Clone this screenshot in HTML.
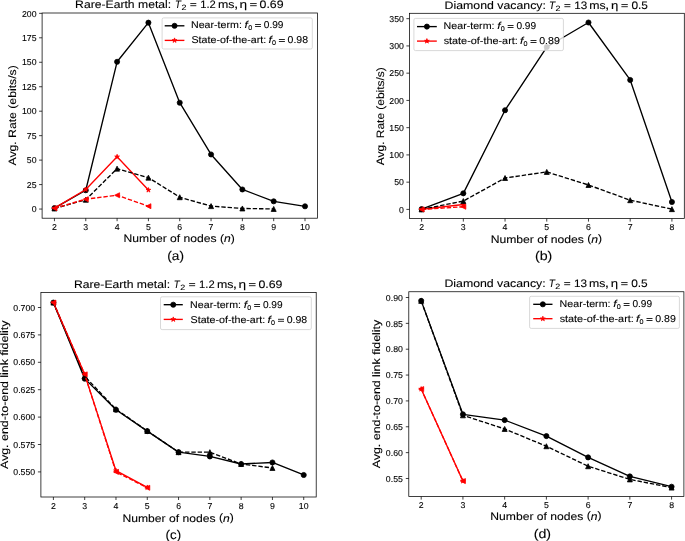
<!DOCTYPE html>
<html><head><meta charset="utf-8"><style>
html,body{margin:0;padding:0;background:#fff;}
svg{display:block;}
text{fill:#000;stroke:#000;stroke-width:0.1px;}
svg{will-change:transform;text-rendering:geometricPrecision;}
</style></head><body>
<svg width="685" height="541" viewBox="0 0 685 541" font-family='"Liberation Sans", sans-serif'>
<rect width="685" height="541" fill="#fff"/>
<clipPath id="ca"><rect x="42.1" y="13.0" width="275.29999999999995" height="205.2"/></clipPath>
<g clip-path="url(#ca)">
<path d="M54.45,208.07 L85.77,190.26 L117.09,61.79 L148.41,22.65 L179.73,102.69 L211.05,154.45 L242.37,189.48 L273.69,201.32 L305.01,206.31" fill="none" stroke="#000" stroke-width="1.35" stroke-linejoin="round"/>
<circle cx="54.45" cy="208.07" r="2.55" fill="#000" stroke="#000" stroke-width="0.8"/>
<circle cx="85.77" cy="190.26" r="2.55" fill="#000" stroke="#000" stroke-width="0.8"/>
<circle cx="117.09" cy="61.79" r="2.55" fill="#000" stroke="#000" stroke-width="0.8"/>
<circle cx="148.41" cy="22.65" r="2.55" fill="#000" stroke="#000" stroke-width="0.8"/>
<circle cx="179.73" cy="102.69" r="2.55" fill="#000" stroke="#000" stroke-width="0.8"/>
<circle cx="211.05" cy="154.45" r="2.55" fill="#000" stroke="#000" stroke-width="0.8"/>
<circle cx="242.37" cy="189.48" r="2.55" fill="#000" stroke="#000" stroke-width="0.8"/>
<circle cx="273.69" cy="201.32" r="2.55" fill="#000" stroke="#000" stroke-width="0.8"/>
<circle cx="305.01" cy="206.31" r="2.55" fill="#000" stroke="#000" stroke-width="0.8"/>
<path d="M54.45,208.07 L85.77,189.48 L117.09,156.80 L148.41,190.07" fill="none" stroke="#ff0000" stroke-width="1.35" stroke-linejoin="round"/>
<polygon points="54.45,205.57 53.89,207.30 52.07,207.30 53.54,208.37 52.98,210.09 54.45,209.03 55.92,210.09 55.36,208.37 56.83,207.30 55.01,207.30" fill="#ff0000" stroke="#ff0000" stroke-width="0.8" stroke-linejoin="miter"/>
<polygon points="85.77,186.98 85.21,188.71 83.39,188.71 84.86,189.78 84.30,191.50 85.77,190.43 87.24,191.50 86.68,189.78 88.15,188.71 86.33,188.71" fill="#ff0000" stroke="#ff0000" stroke-width="0.8" stroke-linejoin="miter"/>
<polygon points="117.09,154.30 116.53,156.03 114.71,156.03 116.18,157.09 115.62,158.82 117.09,157.75 118.56,158.82 118.00,157.09 119.47,156.03 117.65,156.03" fill="#ff0000" stroke="#ff0000" stroke-width="0.8" stroke-linejoin="miter"/>
<polygon points="148.41,187.57 147.85,189.29 146.03,189.29 147.50,190.36 146.94,192.09 148.41,191.02 149.88,192.09 149.32,190.36 150.79,189.29 148.97,189.29" fill="#ff0000" stroke="#ff0000" stroke-width="0.8" stroke-linejoin="miter"/>
<path d="M54.45,208.46 L85.77,199.75 L117.09,168.64 L148.41,177.64 L179.73,197.21 L211.05,206.11 L242.37,208.46 L273.69,208.95" fill="none" stroke="#000" stroke-width="1.35" stroke-linejoin="round" stroke-dasharray="4.4,1.9"/>
<polygon points="54.45,205.96 51.95,210.96 56.95,210.96" fill="#000" stroke="#000" stroke-width="0.8" stroke-linejoin="miter"/>
<polygon points="85.77,197.25 83.27,202.25 88.27,202.25" fill="#000" stroke="#000" stroke-width="0.8" stroke-linejoin="miter"/>
<polygon points="117.09,166.14 114.59,171.14 119.59,171.14" fill="#000" stroke="#000" stroke-width="0.8" stroke-linejoin="miter"/>
<polygon points="148.41,175.14 145.91,180.14 150.91,180.14" fill="#000" stroke="#000" stroke-width="0.8" stroke-linejoin="miter"/>
<polygon points="179.73,194.71 177.23,199.71 182.23,199.71" fill="#000" stroke="#000" stroke-width="0.8" stroke-linejoin="miter"/>
<polygon points="211.05,203.61 208.55,208.61 213.55,208.61" fill="#000" stroke="#000" stroke-width="0.8" stroke-linejoin="miter"/>
<polygon points="242.37,205.96 239.87,210.96 244.87,210.96" fill="#000" stroke="#000" stroke-width="0.8" stroke-linejoin="miter"/>
<polygon points="273.69,206.45 271.19,211.45 276.19,211.45" fill="#000" stroke="#000" stroke-width="0.8" stroke-linejoin="miter"/>
<path d="M54.45,208.27 L85.77,199.17 L117.09,195.25 L148.41,206.21" fill="none" stroke="#ff0000" stroke-width="1.35" stroke-linejoin="round" stroke-dasharray="4.4,1.9"/>
<polygon points="51.95,208.27 56.95,205.77 56.95,210.77" fill="#ff0000" stroke="#ff0000" stroke-width="0.8" stroke-linejoin="miter"/>
<polygon points="83.27,199.17 88.27,196.67 88.27,201.67" fill="#ff0000" stroke="#ff0000" stroke-width="0.8" stroke-linejoin="miter"/>
<polygon points="114.59,195.25 119.59,192.75 119.59,197.75" fill="#ff0000" stroke="#ff0000" stroke-width="0.8" stroke-linejoin="miter"/>
<polygon points="145.91,206.21 150.91,203.71 150.91,208.71" fill="#ff0000" stroke="#ff0000" stroke-width="0.8" stroke-linejoin="miter"/>
</g>
<rect x="42.10" y="13.00" width="275.30" height="205.20" fill="none" stroke="#000" stroke-width="0.75"/>
<path d="M54.45,218.20v3.0 M85.77,218.20v3.0 M117.09,218.20v3.0 M148.41,218.20v3.0 M179.73,218.20v3.0 M211.05,218.20v3.0 M242.37,218.20v3.0 M273.69,218.20v3.0 M305.01,218.20v3.0 M42.10,209.05h-3.0 M42.10,184.59h-3.0 M42.10,160.12h-3.0 M42.10,135.66h-3.0 M42.10,111.20h-3.0 M42.10,86.74h-3.0 M42.10,62.28h-3.0 M42.10,37.81h-3.0 M42.10,13.35h-3.0" stroke="#000" stroke-width="0.75" fill="none"/>
<text x="54.45" y="229.70" font-size="8.6" text-anchor="middle" textLength="4.87" lengthAdjust="spacingAndGlyphs">2</text>
<text x="85.77" y="229.70" font-size="8.6" text-anchor="middle" textLength="4.87" lengthAdjust="spacingAndGlyphs">3</text>
<text x="117.09" y="229.70" font-size="8.6" text-anchor="middle" textLength="4.87" lengthAdjust="spacingAndGlyphs">4</text>
<text x="148.41" y="229.70" font-size="8.6" text-anchor="middle" textLength="4.87" lengthAdjust="spacingAndGlyphs">5</text>
<text x="179.73" y="229.70" font-size="8.6" text-anchor="middle" textLength="4.87" lengthAdjust="spacingAndGlyphs">6</text>
<text x="211.05" y="229.70" font-size="8.6" text-anchor="middle" textLength="4.87" lengthAdjust="spacingAndGlyphs">7</text>
<text x="242.37" y="229.70" font-size="8.6" text-anchor="middle" textLength="4.87" lengthAdjust="spacingAndGlyphs">8</text>
<text x="273.69" y="229.70" font-size="8.6" text-anchor="middle" textLength="4.87" lengthAdjust="spacingAndGlyphs">9</text>
<text x="305.01" y="229.70" font-size="8.6" text-anchor="middle" textLength="9.74" lengthAdjust="spacingAndGlyphs">10</text>
<text x="36.60" y="212.00" font-size="8.6" text-anchor="end" textLength="4.87" lengthAdjust="spacingAndGlyphs">0</text>
<text x="36.60" y="188.00" font-size="8.6" text-anchor="end" textLength="9.74" lengthAdjust="spacingAndGlyphs">25</text>
<text x="36.60" y="163.00" font-size="8.6" text-anchor="end" textLength="9.74" lengthAdjust="spacingAndGlyphs">50</text>
<text x="36.60" y="139.00" font-size="8.6" text-anchor="end" textLength="9.74" lengthAdjust="spacingAndGlyphs">75</text>
<text x="36.60" y="114.00" font-size="8.6" text-anchor="end" textLength="14.60" lengthAdjust="spacingAndGlyphs">100</text>
<text x="36.60" y="90.00" font-size="8.6" text-anchor="end" textLength="14.60" lengthAdjust="spacingAndGlyphs">125</text>
<text x="36.60" y="65.00" font-size="8.6" text-anchor="end" textLength="14.60" lengthAdjust="spacingAndGlyphs">150</text>
<text x="36.60" y="41.00" font-size="8.6" text-anchor="end" textLength="14.60" lengthAdjust="spacingAndGlyphs">175</text>
<text x="36.60" y="17.00" font-size="8.6" text-anchor="end" textLength="14.60" lengthAdjust="spacingAndGlyphs">200</text>
<text transform="translate(75.122,8.00) scale(1.1174,1)" font-size="10.9">Rare-Earth metal:</text>
<text transform="translate(174.906,8.00) scale(0.8941,1)" font-size="10.9"><tspan font-style="italic">T</tspan></text>
<text transform="translate(181.461,10.00) scale(1.1714,1)" font-size="7.63">2</text>
<path d="M190.30,3.55H196.30M190.30,5.70H196.30" stroke="#000" stroke-width="0.85" fill="none"/>
<text transform="translate(200.227,8.00) scale(1.0306,1)" font-size="10.9">1.2</text>
<text transform="translate(218.048,8.00) scale(1.1364,1)" font-size="10.9">ms</text>
<text transform="translate(233.878,8.00) scale(1.4222,1)" font-size="10.9">,</text>
<text transform="translate(239.574,8.00) scale(1.2513,1)" font-size="10.9">η</text>
<path d="M250.10,3.55H256.70M250.10,5.70H256.70" stroke="#000" stroke-width="0.85" fill="none"/>
<text transform="translate(259.575,8.00) scale(1.1337,1)" font-size="10.9">0.69</text>
<text x="123.60" y="242.40" font-size="10.8" text-anchor="start" textLength="111.30" lengthAdjust="spacingAndGlyphs">Number of nodes <tspan dy="-0.8">(</tspan><tspan dy="0.8" font-style="italic">n</tspan><tspan dy="-0.8">)</tspan></text>
<text x="175.70" y="260.00" font-size="12.6" text-anchor="middle" textLength="16.80" lengthAdjust="spacingAndGlyphs"><tspan dy="-0.5">(</tspan><tspan dy="0.5">a</tspan><tspan dy="-0.5">)</tspan></text>
<text transform="translate(16.40,115.40) rotate(-90)" font-size="10.7" text-anchor="middle" textLength="100.30" lengthAdjust="spacingAndGlyphs">Avg. Rate (ebits/s)</text>
<rect x="162.10" y="17.90" width="150.20" height="31.10" rx="1.6" ry="1.6" fill="#fff" fill-opacity="0.8" stroke="#cccccc" stroke-width="0.75"/>
<path d="M164.70,25.80H184.40" stroke="#000" stroke-width="1.35"/>
<circle cx="174.55" cy="25.80" r="2.55" fill="#000" stroke="#000" stroke-width="0.8"/>
<text transform="translate(190.991,28.00) scale(1.0784,1)" font-size="9.9">Near-term:</text>
<text transform="translate(244.596,28.00) scale(1.2148,1)" font-size="9.9"><tspan font-style="italic">f</tspan></text>
<text transform="translate(248.141,29.80) scale(1.0370,1)" font-size="6.93">0</text>
<path d="M255.05,24.50H260.95M255.05,26.50H260.95" stroke="#000" stroke-width="0.85" fill="none"/>
<text transform="translate(263.816,28.00) scale(1.0231,1)" font-size="9.9">0.99</text>
<path d="M164.70,40.40H184.40" stroke="#ff0000" stroke-width="1.35"/>
<polygon points="174.55,37.90 173.99,39.63 172.17,39.63 173.64,40.70 173.08,42.42 174.55,41.35 176.02,42.42 175.46,40.70 176.93,39.63 175.11,39.63" fill="#ff0000" stroke="#ff0000" stroke-width="0.8" stroke-linejoin="miter"/>
<text transform="translate(191.495,43.00) scale(1.0799,1)" font-size="9.9">State-of-the-art:</text>
<text transform="translate(268.396,43.00) scale(1.2148,1)" font-size="9.9"><tspan font-style="italic">f</tspan></text>
<text transform="translate(271.941,44.80) scale(1.0370,1)" font-size="6.93">0</text>
<path d="M278.90,39.50H284.90M278.90,41.50H284.90" stroke="#000" stroke-width="0.85" fill="none"/>
<text transform="translate(287.601,43.00) scale(1.0649,1)" font-size="9.9">0.98</text>
<clipPath id="cb"><rect x="409.4" y="13.3" width="274.9" height="205.29999999999998"/></clipPath>
<g clip-path="url(#cb)">
<path d="M421.60,209.13 L463.32,193.33 L505.04,110.23 L546.76,47.02 L588.48,22.50 L630.20,79.93 L671.92,201.99" fill="none" stroke="#000" stroke-width="1.35" stroke-linejoin="round"/>
<circle cx="421.60" cy="209.13" r="2.55" fill="#000" stroke="#000" stroke-width="0.8"/>
<circle cx="463.32" cy="193.33" r="2.55" fill="#000" stroke="#000" stroke-width="0.8"/>
<circle cx="505.04" cy="110.23" r="2.55" fill="#000" stroke="#000" stroke-width="0.8"/>
<circle cx="546.76" cy="47.02" r="2.55" fill="#000" stroke="#000" stroke-width="0.8"/>
<circle cx="588.48" cy="22.50" r="2.55" fill="#000" stroke="#000" stroke-width="0.8"/>
<circle cx="630.20" cy="79.93" r="2.55" fill="#000" stroke="#000" stroke-width="0.8"/>
<circle cx="671.92" cy="201.99" r="2.55" fill="#000" stroke="#000" stroke-width="0.8"/>
<path d="M421.60,209.29 L463.32,204.50" fill="none" stroke="#ff0000" stroke-width="1.35" stroke-linejoin="round"/>
<polygon points="421.60,206.79 421.04,208.52 419.22,208.52 420.69,209.59 420.13,211.31 421.60,210.25 423.07,211.31 422.51,209.59 423.98,208.52 422.16,208.52" fill="#ff0000" stroke="#ff0000" stroke-width="0.8" stroke-linejoin="miter"/>
<polygon points="463.32,202.00 462.76,203.72 460.94,203.72 462.41,204.79 461.85,206.52 463.32,205.45 464.79,206.52 464.23,204.79 465.70,203.72 463.88,203.72" fill="#ff0000" stroke="#ff0000" stroke-width="0.8" stroke-linejoin="miter"/>
<path d="M421.60,209.40 L463.32,201.06 L505.04,178.01 L546.76,171.91 L588.48,184.99 L630.20,200.19 L671.92,209.13" fill="none" stroke="#000" stroke-width="1.35" stroke-linejoin="round" stroke-dasharray="4.4,1.9"/>
<polygon points="421.60,206.90 419.10,211.90 424.10,211.90" fill="#000" stroke="#000" stroke-width="0.8" stroke-linejoin="miter"/>
<polygon points="463.32,198.56 460.82,203.56 465.82,203.56" fill="#000" stroke="#000" stroke-width="0.8" stroke-linejoin="miter"/>
<polygon points="505.04,175.51 502.54,180.51 507.54,180.51" fill="#000" stroke="#000" stroke-width="0.8" stroke-linejoin="miter"/>
<polygon points="546.76,169.41 544.26,174.41 549.26,174.41" fill="#000" stroke="#000" stroke-width="0.8" stroke-linejoin="miter"/>
<polygon points="588.48,182.49 585.98,187.49 590.98,187.49" fill="#000" stroke="#000" stroke-width="0.8" stroke-linejoin="miter"/>
<polygon points="630.20,197.69 627.70,202.69 632.70,202.69" fill="#000" stroke="#000" stroke-width="0.8" stroke-linejoin="miter"/>
<polygon points="671.92,206.63 669.42,211.63 674.42,211.63" fill="#000" stroke="#000" stroke-width="0.8" stroke-linejoin="miter"/>
<path d="M421.60,209.40 L463.32,206.78" fill="none" stroke="#ff0000" stroke-width="1.35" stroke-linejoin="round" stroke-dasharray="4.4,1.9"/>
<polygon points="419.10,209.40 424.10,206.90 424.10,211.90" fill="#ff0000" stroke="#ff0000" stroke-width="0.8" stroke-linejoin="miter"/>
<polygon points="460.82,206.78 465.82,204.28 465.82,209.28" fill="#ff0000" stroke="#ff0000" stroke-width="0.8" stroke-linejoin="miter"/>
</g>
<rect x="409.40" y="13.30" width="274.90" height="205.30" fill="none" stroke="#000" stroke-width="0.75"/>
<path d="M421.60,218.60v3.0 M463.32,218.60v3.0 M505.04,218.60v3.0 M546.76,218.60v3.0 M588.48,218.60v3.0 M630.20,218.60v3.0 M671.92,218.60v3.0 M409.40,209.40h-3.0 M409.40,182.16h-3.0 M409.40,154.91h-3.0 M409.40,127.66h-3.0 M409.40,100.42h-3.0 M409.40,73.17h-3.0 M409.40,45.93h-3.0 M409.40,18.68h-3.0" stroke="#000" stroke-width="0.75" fill="none"/>
<text x="421.60" y="230.10" font-size="8.6" text-anchor="middle" textLength="4.87" lengthAdjust="spacingAndGlyphs">2</text>
<text x="463.32" y="230.10" font-size="8.6" text-anchor="middle" textLength="4.87" lengthAdjust="spacingAndGlyphs">3</text>
<text x="505.04" y="230.10" font-size="8.6" text-anchor="middle" textLength="4.87" lengthAdjust="spacingAndGlyphs">4</text>
<text x="546.76" y="230.10" font-size="8.6" text-anchor="middle" textLength="4.87" lengthAdjust="spacingAndGlyphs">5</text>
<text x="588.48" y="230.10" font-size="8.6" text-anchor="middle" textLength="4.87" lengthAdjust="spacingAndGlyphs">6</text>
<text x="630.20" y="230.10" font-size="8.6" text-anchor="middle" textLength="4.87" lengthAdjust="spacingAndGlyphs">7</text>
<text x="671.92" y="230.10" font-size="8.6" text-anchor="middle" textLength="4.87" lengthAdjust="spacingAndGlyphs">8</text>
<text x="403.90" y="213.00" font-size="8.6" text-anchor="end" textLength="4.87" lengthAdjust="spacingAndGlyphs">0</text>
<text x="403.90" y="185.00" font-size="8.6" text-anchor="end" textLength="9.74" lengthAdjust="spacingAndGlyphs">50</text>
<text x="403.90" y="158.00" font-size="8.6" text-anchor="end" textLength="14.60" lengthAdjust="spacingAndGlyphs">100</text>
<text x="403.90" y="131.00" font-size="8.6" text-anchor="end" textLength="14.60" lengthAdjust="spacingAndGlyphs">150</text>
<text x="403.90" y="104.00" font-size="8.6" text-anchor="end" textLength="14.60" lengthAdjust="spacingAndGlyphs">200</text>
<text x="403.90" y="76.00" font-size="8.6" text-anchor="end" textLength="14.60" lengthAdjust="spacingAndGlyphs">250</text>
<text x="403.90" y="49.00" font-size="8.6" text-anchor="end" textLength="14.60" lengthAdjust="spacingAndGlyphs">300</text>
<text x="403.90" y="22.00" font-size="8.6" text-anchor="end" textLength="14.60" lengthAdjust="spacingAndGlyphs">350</text>
<text transform="translate(444.611,9.00) scale(1.1305,1)" font-size="10.9">Diamond vacancy:</text>
<text transform="translate(548.975,9.00) scale(0.9255,1)" font-size="10.9"><tspan font-style="italic">T</tspan></text>
<text transform="translate(555.561,11.00) scale(1.1714,1)" font-size="7.63">2</text>
<path d="M564.40,4.55H570.40M564.40,6.70H570.40" stroke="#000" stroke-width="0.85" fill="none"/>
<text transform="translate(574.193,9.00) scale(1.0759,1)" font-size="10.9">13</text>
<text transform="translate(589.153,9.00) scale(1.1290,1)" font-size="10.9">ms</text>
<text transform="translate(604.878,9.00) scale(1.4222,1)" font-size="10.9">,</text>
<text transform="translate(610.895,9.00) scale(1.2103,1)" font-size="10.9">η</text>
<path d="M621.40,4.55H627.80M621.40,6.70H627.80" stroke="#000" stroke-width="0.85" fill="none"/>
<text transform="translate(631.390,9.00) scale(1.0922,1)" font-size="10.9">0.5</text>
<text x="490.70" y="242.60" font-size="10.8" text-anchor="start" textLength="111.50" lengthAdjust="spacingAndGlyphs">Number of nodes <tspan dy="-0.8">(</tspan><tspan dy="0.8" font-style="italic">n</tspan><tspan dy="-0.8">)</tspan></text>
<text x="543.60" y="260.00" font-size="12.6" text-anchor="middle" textLength="17.40" lengthAdjust="spacingAndGlyphs"><tspan dy="-0.5">(</tspan><tspan dy="0.5">b</tspan><tspan dy="-0.5">)</tspan></text>
<text transform="translate(383.70,116.20) rotate(-90)" font-size="10.7" text-anchor="middle" textLength="98.00" lengthAdjust="spacingAndGlyphs">Avg. Rate (ebits/s)</text>
<rect x="413.90" y="18.40" width="149.50" height="32.20" rx="1.6" ry="1.6" fill="#fff" fill-opacity="0.8" stroke="#cccccc" stroke-width="0.75"/>
<path d="M417.00,26.60H436.80" stroke="#000" stroke-width="1.35"/>
<circle cx="426.90" cy="26.60" r="2.55" fill="#000" stroke="#000" stroke-width="0.8"/>
<text transform="translate(443.591,29.00) scale(1.0784,1)" font-size="9.9">Near-term:</text>
<text transform="translate(497.196,29.00) scale(1.2148,1)" font-size="9.9"><tspan font-style="italic">f</tspan></text>
<text transform="translate(500.741,30.80) scale(1.0370,1)" font-size="6.93">0</text>
<path d="M507.65,25.50H513.55M507.65,27.50H513.55" stroke="#000" stroke-width="0.85" fill="none"/>
<text transform="translate(516.416,29.00) scale(1.0231,1)" font-size="9.9">0.99</text>
<path d="M417.00,41.10H436.80" stroke="#ff0000" stroke-width="1.35"/>
<polygon points="426.90,38.60 426.34,40.33 424.52,40.33 425.99,41.40 425.43,43.12 426.90,42.05 428.37,43.12 427.81,41.40 429.28,40.33 427.46,40.33" fill="#ff0000" stroke="#ff0000" stroke-width="0.8" stroke-linejoin="miter"/>
<text transform="translate(443.625,44.00) scale(1.0983,1)" font-size="9.9">state-of-the-art:</text>
<text transform="translate(519.996,44.00) scale(1.2148,1)" font-size="9.9"><tspan font-style="italic">f</tspan></text>
<text transform="translate(523.541,45.80) scale(1.0370,1)" font-size="6.93">0</text>
<path d="M530.50,40.50H536.50M530.50,42.50H536.50" stroke="#000" stroke-width="0.85" fill="none"/>
<text transform="translate(539.198,44.00) scale(1.0721,1)" font-size="9.9">0.89</text>
<clipPath id="cc"><rect x="40.9" y="292.45" width="275.3" height="204.55"/></clipPath>
<g clip-path="url(#cc)">
<path d="M53.40,302.57 L84.69,378.63 L115.98,409.76 L147.27,431.13 L178.56,452.17 L209.85,456.45 L241.14,464.01 L272.43,462.47 L303.72,474.97" fill="none" stroke="#000" stroke-width="1.35" stroke-linejoin="round"/>
<circle cx="53.40" cy="302.57" r="2.55" fill="#000" stroke="#000" stroke-width="0.8"/>
<circle cx="84.69" cy="378.63" r="2.55" fill="#000" stroke="#000" stroke-width="0.8"/>
<circle cx="115.98" cy="409.76" r="2.55" fill="#000" stroke="#000" stroke-width="0.8"/>
<circle cx="147.27" cy="431.13" r="2.55" fill="#000" stroke="#000" stroke-width="0.8"/>
<circle cx="178.56" cy="452.17" r="2.55" fill="#000" stroke="#000" stroke-width="0.8"/>
<circle cx="209.85" cy="456.45" r="2.55" fill="#000" stroke="#000" stroke-width="0.8"/>
<circle cx="241.14" cy="464.01" r="2.55" fill="#000" stroke="#000" stroke-width="0.8"/>
<circle cx="272.43" cy="462.47" r="2.55" fill="#000" stroke="#000" stroke-width="0.8"/>
<circle cx="303.72" cy="474.97" r="2.55" fill="#000" stroke="#000" stroke-width="0.8"/>
<path d="M53.40,302.57 L84.69,374.36 L115.98,470.69 L147.27,487.46" fill="none" stroke="#ff0000" stroke-width="1.35" stroke-linejoin="round"/>
<polygon points="53.40,300.07 52.84,301.80 51.02,301.80 52.49,302.86 51.93,304.59 53.40,303.52 54.87,304.59 54.31,302.86 55.78,301.80 53.96,301.80" fill="#ff0000" stroke="#ff0000" stroke-width="0.8" stroke-linejoin="miter"/>
<polygon points="84.69,371.86 84.13,373.58 82.31,373.58 83.78,374.65 83.22,376.38 84.69,375.31 86.16,376.38 85.60,374.65 87.07,373.58 85.25,373.58" fill="#ff0000" stroke="#ff0000" stroke-width="0.8" stroke-linejoin="miter"/>
<polygon points="115.98,468.19 115.42,469.92 113.60,469.92 115.07,470.99 114.51,472.72 115.98,471.65 117.45,472.72 116.89,470.99 118.36,469.92 116.54,469.92" fill="#ff0000" stroke="#ff0000" stroke-width="0.8" stroke-linejoin="miter"/>
<polygon points="147.27,484.96 146.71,486.69 144.89,486.69 146.36,487.76 145.80,489.49 147.27,488.42 148.74,489.49 148.18,487.76 149.65,486.69 147.83,486.69" fill="#ff0000" stroke="#ff0000" stroke-width="0.8" stroke-linejoin="miter"/>
<path d="M53.40,302.57 L84.69,376.33 L115.98,409.21 L147.27,430.91 L178.56,452.17 L209.85,452.17 L241.14,464.01 L272.43,467.95" fill="none" stroke="#000" stroke-width="1.35" stroke-linejoin="round" stroke-dasharray="4.4,1.9"/>
<polygon points="53.40,300.07 50.90,305.07 55.90,305.07" fill="#000" stroke="#000" stroke-width="0.8" stroke-linejoin="miter"/>
<polygon points="84.69,373.83 82.19,378.83 87.19,378.83" fill="#000" stroke="#000" stroke-width="0.8" stroke-linejoin="miter"/>
<polygon points="115.98,406.71 113.48,411.71 118.48,411.71" fill="#000" stroke="#000" stroke-width="0.8" stroke-linejoin="miter"/>
<polygon points="147.27,428.41 144.77,433.41 149.77,433.41" fill="#000" stroke="#000" stroke-width="0.8" stroke-linejoin="miter"/>
<polygon points="178.56,449.67 176.06,454.67 181.06,454.67" fill="#000" stroke="#000" stroke-width="0.8" stroke-linejoin="miter"/>
<polygon points="209.85,449.67 207.35,454.67 212.35,454.67" fill="#000" stroke="#000" stroke-width="0.8" stroke-linejoin="miter"/>
<polygon points="241.14,461.51 238.64,466.51 243.64,466.51" fill="#000" stroke="#000" stroke-width="0.8" stroke-linejoin="miter"/>
<polygon points="272.43,465.45 269.93,470.45 274.93,470.45" fill="#000" stroke="#000" stroke-width="0.8" stroke-linejoin="miter"/>
<path d="M53.40,302.57 L84.69,374.36 L115.98,471.90 L147.27,487.79" fill="none" stroke="#ff0000" stroke-width="1.35" stroke-linejoin="round" stroke-dasharray="4.4,1.9"/>
<polygon points="50.90,302.57 55.90,300.07 55.90,305.07" fill="#ff0000" stroke="#ff0000" stroke-width="0.8" stroke-linejoin="miter"/>
<polygon points="82.19,374.36 87.19,371.86 87.19,376.86" fill="#ff0000" stroke="#ff0000" stroke-width="0.8" stroke-linejoin="miter"/>
<polygon points="113.48,471.90 118.48,469.40 118.48,474.40" fill="#ff0000" stroke="#ff0000" stroke-width="0.8" stroke-linejoin="miter"/>
<polygon points="144.77,487.79 149.77,485.29 149.77,490.29" fill="#ff0000" stroke="#ff0000" stroke-width="0.8" stroke-linejoin="miter"/>
</g>
<rect x="40.90" y="292.45" width="275.30" height="204.55" fill="none" stroke="#000" stroke-width="0.75"/>
<path d="M53.40,497.00v3.0 M84.69,497.00v3.0 M115.98,497.00v3.0 M147.27,497.00v3.0 M178.56,497.00v3.0 M209.85,497.00v3.0 M241.14,497.00v3.0 M272.43,497.00v3.0 M303.72,497.00v3.0 M40.90,471.90h-3.0 M40.90,444.50h-3.0 M40.90,417.10h-3.0 M40.90,389.70h-3.0 M40.90,362.30h-3.0 M40.90,334.90h-3.0 M40.90,307.50h-3.0" stroke="#000" stroke-width="0.75" fill="none"/>
<text x="53.40" y="508.60" font-size="8.6" text-anchor="middle" textLength="4.87" lengthAdjust="spacingAndGlyphs">2</text>
<text x="84.69" y="508.60" font-size="8.6" text-anchor="middle" textLength="4.87" lengthAdjust="spacingAndGlyphs">3</text>
<text x="115.98" y="508.60" font-size="8.6" text-anchor="middle" textLength="4.87" lengthAdjust="spacingAndGlyphs">4</text>
<text x="147.27" y="508.60" font-size="8.6" text-anchor="middle" textLength="4.87" lengthAdjust="spacingAndGlyphs">5</text>
<text x="178.56" y="508.60" font-size="8.6" text-anchor="middle" textLength="4.87" lengthAdjust="spacingAndGlyphs">6</text>
<text x="209.85" y="508.60" font-size="8.6" text-anchor="middle" textLength="4.87" lengthAdjust="spacingAndGlyphs">7</text>
<text x="241.14" y="508.60" font-size="8.6" text-anchor="middle" textLength="4.87" lengthAdjust="spacingAndGlyphs">8</text>
<text x="272.43" y="508.60" font-size="8.6" text-anchor="middle" textLength="4.87" lengthAdjust="spacingAndGlyphs">9</text>
<text x="303.72" y="508.60" font-size="8.6" text-anchor="middle" textLength="9.74" lengthAdjust="spacingAndGlyphs">10</text>
<text x="35.20" y="475.00" font-size="8.6" text-anchor="end" textLength="21.91" lengthAdjust="spacingAndGlyphs">0.550</text>
<text x="35.20" y="448.00" font-size="8.6" text-anchor="end" textLength="21.91" lengthAdjust="spacingAndGlyphs">0.575</text>
<text x="35.20" y="420.00" font-size="8.6" text-anchor="end" textLength="21.91" lengthAdjust="spacingAndGlyphs">0.600</text>
<text x="35.20" y="393.00" font-size="8.6" text-anchor="end" textLength="21.91" lengthAdjust="spacingAndGlyphs">0.625</text>
<text x="35.20" y="365.00" font-size="8.6" text-anchor="end" textLength="21.91" lengthAdjust="spacingAndGlyphs">0.650</text>
<text x="35.20" y="338.00" font-size="8.6" text-anchor="end" textLength="21.91" lengthAdjust="spacingAndGlyphs">0.675</text>
<text x="35.20" y="311.00" font-size="8.6" text-anchor="end" textLength="21.91" lengthAdjust="spacingAndGlyphs">0.700</text>
<text transform="translate(73.972,288.00) scale(1.1174,1)" font-size="10.9">Rare-Earth metal:</text>
<text transform="translate(173.756,288.00) scale(0.8941,1)" font-size="10.9"><tspan font-style="italic">T</tspan></text>
<text transform="translate(180.311,290.00) scale(1.1714,1)" font-size="7.63">2</text>
<path d="M189.15,283.55H195.15M189.15,285.70H195.15" stroke="#000" stroke-width="0.85" fill="none"/>
<text transform="translate(199.077,288.00) scale(1.0306,1)" font-size="10.9">1.2</text>
<text transform="translate(216.898,288.00) scale(1.1364,1)" font-size="10.9">ms</text>
<text transform="translate(232.728,288.00) scale(1.4222,1)" font-size="10.9">,</text>
<text transform="translate(238.424,288.00) scale(1.2513,1)" font-size="10.9">η</text>
<path d="M248.95,283.55H255.55M248.95,285.70H255.55" stroke="#000" stroke-width="0.85" fill="none"/>
<text transform="translate(258.425,288.00) scale(1.1337,1)" font-size="10.9">0.69</text>
<text x="122.50" y="521.90" font-size="10.8" text-anchor="start" textLength="111.30" lengthAdjust="spacingAndGlyphs">Number of nodes <tspan dy="-0.8">(</tspan><tspan dy="0.8" font-style="italic">n</tspan><tspan dy="-0.8">)</tspan></text>
<text x="173.40" y="539.00" font-size="12.6" text-anchor="middle" textLength="15.60" lengthAdjust="spacingAndGlyphs"><tspan dy="-0.5">(</tspan><tspan dy="0.5">c</tspan><tspan dy="-0.5">)</tspan></text>
<text transform="translate(7.60,394.75) rotate(-90)" font-size="10.7" text-anchor="middle" textLength="148.50" lengthAdjust="spacingAndGlyphs">Avg. end-to-end link fidelity</text>
<rect x="160.50" y="296.80" width="150.80" height="32.80" rx="1.6" ry="1.6" fill="#fff" fill-opacity="0.8" stroke="#cccccc" stroke-width="0.75"/>
<path d="M163.70,304.70H182.80" stroke="#000" stroke-width="1.35"/>
<circle cx="173.25" cy="304.70" r="2.55" fill="#000" stroke="#000" stroke-width="0.8"/>
<text transform="translate(190.091,308.00) scale(1.0784,1)" font-size="9.9">Near-term:</text>
<text transform="translate(243.696,308.00) scale(1.2148,1)" font-size="9.9"><tspan font-style="italic">f</tspan></text>
<text transform="translate(247.241,309.80) scale(1.0370,1)" font-size="6.93">0</text>
<path d="M254.15,304.50H260.05M254.15,306.50H260.05" stroke="#000" stroke-width="0.85" fill="none"/>
<text transform="translate(262.916,308.00) scale(1.0231,1)" font-size="9.9">0.99</text>
<path d="M163.70,319.40H182.80" stroke="#ff0000" stroke-width="1.35"/>
<polygon points="173.25,316.90 172.69,318.63 170.87,318.63 172.34,319.70 171.78,321.42 173.25,320.35 174.72,321.42 174.16,319.70 175.63,318.63 173.81,318.63" fill="#ff0000" stroke="#ff0000" stroke-width="0.8" stroke-linejoin="miter"/>
<text transform="translate(190.595,322.80) scale(1.0799,1)" font-size="9.9">State-of-the-art:</text>
<text transform="translate(267.496,322.80) scale(1.2148,1)" font-size="9.9"><tspan font-style="italic">f</tspan></text>
<text transform="translate(271.041,324.60) scale(1.0370,1)" font-size="6.93">0</text>
<path d="M278.00,319.30H284.00M278.00,321.30H284.00" stroke="#000" stroke-width="0.85" fill="none"/>
<text transform="translate(286.701,322.80) scale(1.0649,1)" font-size="9.9">0.98</text>
<clipPath id="cd"><rect x="408.8" y="291.75" width="275.09999999999997" height="204.85000000000002"/></clipPath>
<g clip-path="url(#cd)">
<path d="M421.20,300.86 L462.93,414.31 L504.66,420.10 L546.39,436.08 L588.12,457.39 L629.85,476.42 L671.58,486.71" fill="none" stroke="#000" stroke-width="1.35" stroke-linejoin="round"/>
<circle cx="421.20" cy="300.86" r="2.55" fill="#000" stroke="#000" stroke-width="0.8"/>
<circle cx="462.93" cy="414.31" r="2.55" fill="#000" stroke="#000" stroke-width="0.8"/>
<circle cx="504.66" cy="420.10" r="2.55" fill="#000" stroke="#000" stroke-width="0.8"/>
<circle cx="546.39" cy="436.08" r="2.55" fill="#000" stroke="#000" stroke-width="0.8"/>
<circle cx="588.12" cy="457.39" r="2.55" fill="#000" stroke="#000" stroke-width="0.8"/>
<circle cx="629.85" cy="476.42" r="2.55" fill="#000" stroke="#000" stroke-width="0.8"/>
<circle cx="671.58" cy="486.71" r="2.55" fill="#000" stroke="#000" stroke-width="0.8"/>
<path d="M421.20,389.08 L462.93,481.07" fill="none" stroke="#ff0000" stroke-width="1.35" stroke-linejoin="round"/>
<polygon points="421.20,386.58 420.64,388.31 418.82,388.31 420.29,389.37 419.73,391.10 421.20,390.03 422.67,391.10 422.11,389.37 423.58,388.31 421.76,388.31" fill="#ff0000" stroke="#ff0000" stroke-width="0.8" stroke-linejoin="miter"/>
<polygon points="462.93,478.57 462.37,480.30 460.55,480.30 462.02,481.37 461.46,483.09 462.93,482.03 464.40,483.09 463.84,481.37 465.31,480.30 463.49,480.30" fill="#ff0000" stroke="#ff0000" stroke-width="0.8" stroke-linejoin="miter"/>
<path d="M421.20,300.86 L462.93,415.30 L504.66,428.95 L546.39,446.22 L588.12,466.23 L629.85,479.42 L671.58,487.59" fill="none" stroke="#000" stroke-width="1.35" stroke-linejoin="round" stroke-dasharray="4.4,1.9"/>
<polygon points="421.20,298.36 418.70,303.36 423.70,303.36" fill="#000" stroke="#000" stroke-width="0.8" stroke-linejoin="miter"/>
<polygon points="462.93,412.80 460.43,417.80 465.43,417.80" fill="#000" stroke="#000" stroke-width="0.8" stroke-linejoin="miter"/>
<polygon points="504.66,426.45 502.16,431.45 507.16,431.45" fill="#000" stroke="#000" stroke-width="0.8" stroke-linejoin="miter"/>
<polygon points="546.39,443.72 543.89,448.72 548.89,448.72" fill="#000" stroke="#000" stroke-width="0.8" stroke-linejoin="miter"/>
<polygon points="588.12,463.73 585.62,468.73 590.62,468.73" fill="#000" stroke="#000" stroke-width="0.8" stroke-linejoin="miter"/>
<polygon points="629.85,476.92 627.35,481.92 632.35,481.92" fill="#000" stroke="#000" stroke-width="0.8" stroke-linejoin="miter"/>
<polygon points="671.58,485.09 669.08,490.09 674.08,490.09" fill="#000" stroke="#000" stroke-width="0.8" stroke-linejoin="miter"/>
<path d="M421.20,389.08 L462.93,481.07" fill="none" stroke="#ff0000" stroke-width="1.35" stroke-linejoin="round" stroke-dasharray="4.4,1.9"/>
<polygon points="418.70,389.08 423.70,386.58 423.70,391.58" fill="#ff0000" stroke="#ff0000" stroke-width="0.8" stroke-linejoin="miter"/>
<polygon points="460.43,481.07 465.43,478.57 465.43,483.57" fill="#ff0000" stroke="#ff0000" stroke-width="0.8" stroke-linejoin="miter"/>
</g>
<rect x="408.80" y="291.75" width="275.10" height="204.85" fill="none" stroke="#000" stroke-width="0.75"/>
<path d="M421.20,496.60v3.0 M462.93,496.60v3.0 M504.66,496.60v3.0 M546.39,496.60v3.0 M588.12,496.60v3.0 M629.85,496.60v3.0 M671.58,496.60v3.0 M408.80,478.49h-3.0 M408.80,452.63h-3.0 M408.80,426.77h-3.0 M408.80,400.92h-3.0 M408.80,375.06h-3.0 M408.80,349.21h-3.0 M408.80,323.36h-3.0 M408.80,297.50h-3.0" stroke="#000" stroke-width="0.75" fill="none"/>
<text x="421.20" y="508.00" font-size="8.6" text-anchor="middle" textLength="4.87" lengthAdjust="spacingAndGlyphs">2</text>
<text x="462.93" y="508.00" font-size="8.6" text-anchor="middle" textLength="4.87" lengthAdjust="spacingAndGlyphs">3</text>
<text x="504.66" y="508.00" font-size="8.6" text-anchor="middle" textLength="4.87" lengthAdjust="spacingAndGlyphs">4</text>
<text x="546.39" y="508.00" font-size="8.6" text-anchor="middle" textLength="4.87" lengthAdjust="spacingAndGlyphs">5</text>
<text x="588.12" y="508.00" font-size="8.6" text-anchor="middle" textLength="4.87" lengthAdjust="spacingAndGlyphs">6</text>
<text x="629.85" y="508.00" font-size="8.6" text-anchor="middle" textLength="4.87" lengthAdjust="spacingAndGlyphs">7</text>
<text x="671.58" y="508.00" font-size="8.6" text-anchor="middle" textLength="4.87" lengthAdjust="spacingAndGlyphs">8</text>
<text x="402.90" y="482.00" font-size="8.6" text-anchor="end" textLength="17.04" lengthAdjust="spacingAndGlyphs">0.55</text>
<text x="402.90" y="456.00" font-size="8.6" text-anchor="end" textLength="17.04" lengthAdjust="spacingAndGlyphs">0.60</text>
<text x="402.90" y="430.00" font-size="8.6" text-anchor="end" textLength="17.04" lengthAdjust="spacingAndGlyphs">0.65</text>
<text x="402.90" y="404.00" font-size="8.6" text-anchor="end" textLength="17.04" lengthAdjust="spacingAndGlyphs">0.70</text>
<text x="402.90" y="378.00" font-size="8.6" text-anchor="end" textLength="17.04" lengthAdjust="spacingAndGlyphs">0.75</text>
<text x="402.90" y="352.00" font-size="8.6" text-anchor="end" textLength="17.04" lengthAdjust="spacingAndGlyphs">0.80</text>
<text x="402.90" y="327.00" font-size="8.6" text-anchor="end" textLength="17.04" lengthAdjust="spacingAndGlyphs">0.85</text>
<text x="402.90" y="301.00" font-size="8.6" text-anchor="end" textLength="17.04" lengthAdjust="spacingAndGlyphs">0.90</text>
<text transform="translate(444.411,287.00) scale(1.1305,1)" font-size="10.9">Diamond vacancy:</text>
<text transform="translate(548.775,287.00) scale(0.9255,1)" font-size="10.9"><tspan font-style="italic">T</tspan></text>
<text transform="translate(555.361,289.00) scale(1.1714,1)" font-size="7.63">2</text>
<path d="M564.20,282.55H570.20M564.20,284.70H570.20" stroke="#000" stroke-width="0.85" fill="none"/>
<text transform="translate(573.993,287.00) scale(1.0759,1)" font-size="10.9">13</text>
<text transform="translate(588.953,287.00) scale(1.1290,1)" font-size="10.9">ms</text>
<text transform="translate(604.678,287.00) scale(1.4222,1)" font-size="10.9">,</text>
<text transform="translate(610.695,287.00) scale(1.2103,1)" font-size="10.9">η</text>
<path d="M621.20,282.55H627.60M621.20,284.70H627.60" stroke="#000" stroke-width="0.85" fill="none"/>
<text transform="translate(631.190,287.00) scale(1.0922,1)" font-size="10.9">0.5</text>
<text x="490.30" y="520.20" font-size="10.8" text-anchor="start" textLength="111.30" lengthAdjust="spacingAndGlyphs">Number of nodes <tspan dy="-0.8">(</tspan><tspan dy="0.8" font-style="italic">n</tspan><tspan dy="-0.8">)</tspan></text>
<text x="542.40" y="538.00" font-size="12.6" text-anchor="middle" textLength="17.40" lengthAdjust="spacingAndGlyphs"><tspan dy="-0.5">(</tspan><tspan dy="0.5">d</tspan><tspan dy="-0.5">)</tspan></text>
<text transform="translate(380.40,394.00) rotate(-90)" font-size="10.7" text-anchor="middle" textLength="148.50" lengthAdjust="spacingAndGlyphs">Avg. end-to-end link fidelity</text>
<rect x="529.60" y="296.30" width="149.80" height="32.10" rx="1.6" ry="1.6" fill="#fff" fill-opacity="0.8" stroke="#cccccc" stroke-width="0.75"/>
<path d="M533.20,304.30H552.50" stroke="#000" stroke-width="1.35"/>
<circle cx="542.85" cy="304.30" r="2.55" fill="#000" stroke="#000" stroke-width="0.8"/>
<text transform="translate(559.591,307.00) scale(1.0784,1)" font-size="9.9">Near-term:</text>
<text transform="translate(613.196,307.00) scale(1.2148,1)" font-size="9.9"><tspan font-style="italic">f</tspan></text>
<text transform="translate(616.741,308.80) scale(1.0370,1)" font-size="6.93">0</text>
<path d="M623.65,303.50H629.55M623.65,305.50H629.55" stroke="#000" stroke-width="0.85" fill="none"/>
<text transform="translate(632.416,307.00) scale(1.0231,1)" font-size="9.9">0.99</text>
<path d="M533.20,318.70H552.50" stroke="#ff0000" stroke-width="1.35"/>
<polygon points="542.85,316.20 542.29,317.93 540.47,317.93 541.94,319.00 541.38,320.72 542.85,319.65 544.32,320.72 543.76,319.00 545.23,317.93 543.41,317.93" fill="#ff0000" stroke="#ff0000" stroke-width="0.8" stroke-linejoin="miter"/>
<text transform="translate(559.625,322.00) scale(1.0983,1)" font-size="9.9">state-of-the-art:</text>
<text transform="translate(635.996,322.00) scale(1.2148,1)" font-size="9.9"><tspan font-style="italic">f</tspan></text>
<text transform="translate(639.541,323.80) scale(1.0370,1)" font-size="6.93">0</text>
<path d="M646.50,318.50H652.50M646.50,320.50H652.50" stroke="#000" stroke-width="0.85" fill="none"/>
<text transform="translate(655.198,322.00) scale(1.0721,1)" font-size="9.9">0.89</text>
</svg></body></html>
